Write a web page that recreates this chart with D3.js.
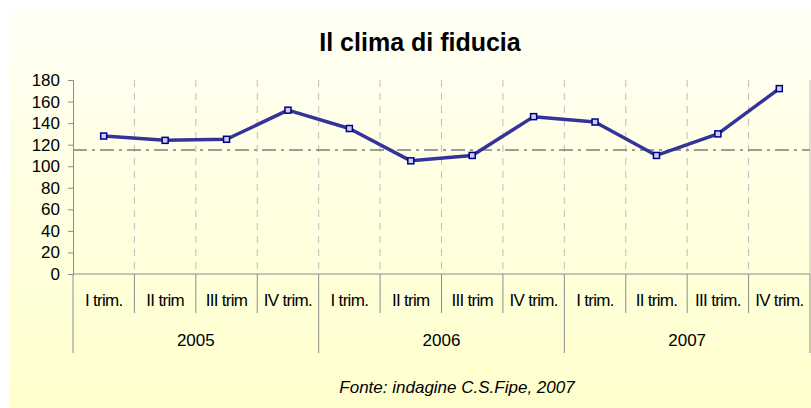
<!DOCTYPE html>
<html lang="it">
<head>
<meta charset="UTF-8">
<title>Il clima di fiducia</title>
<style>
  body { margin: 0; background: #fff; }
  text { font-family: "Liberation Sans", Arial, sans-serif; }
</style>
</head>
<body>
<script src="https://cdn.jsdelivr.net/npm/d3@7"></script>
<script>
// dati
const anni = ["2005", "2006", "2007"];
const trimestri = ["I trim.", "II trim", "III trim", "IV trim.",
                   "I trim.", "II trim", "III trim", "IV trim.",
                   "I trim.", "II trim.", "III trim.", "IV trim."];
const valori = [128, 124, 125, 152, 135, 105, 110, 146, 141, 110, 130, 172];
const media = 115;
const yTicks = [0, 20, 40, 60, 80, 100, 120, 140, 160, 180];

const W = 811, H = 408;
const svg = d3.select("body").append("svg")
    .attr("width", W).attr("height", H);

// sfondo sfumato
const grad = svg.append("defs").append("linearGradient")
    .attr("id", "sfondo").attr("x1", 0).attr("y1", 0).attr("x2", 0).attr("y2", 1);
grad.append("stop").attr("offset", "0%").attr("stop-color", "#fffff5");
grad.append("stop").attr("offset", "100%").attr("stop-color", "#ffffcc");
svg.append("rect")
    .attr("x", 10).attr("y", 10).attr("width", W - 10).attr("height", H - 10)
    .attr("fill", "url(#sfondo)");

const mSx = 73, mDx = 810, mAlto = 80, mBasso = 274;
const idx = valori.map((d, i) => i);

const x = d3.scaleBand().domain(idx).range([mSx, mDx]).padding(0);
const y = d3.scaleLinear().domain([0, 180]).range([mBasso, mAlto]);

// titolo
svg.append("text")
    .attr("x", 420).attr("y", 51)
    .attr("text-anchor", "middle")
    .style("font-size", "25px").style("font-weight", "bold")
    .style("letter-spacing", "0px")
    .text("Il clima di fiducia");

// griglia verticale tratteggiata
svg.append("g").selectAll("line")
    .data(idx.slice(1))
    .enter().append("line")
        .attr("x1", d => x(d)).attr("x2", d => x(d))
        .attr("y1", mAlto).attr("y2", mBasso)
        .attr("stroke", "#bdbdbd").attr("stroke-width", 1)
        .attr("stroke-dasharray", "7,6");

svg.append("line")
    .attr("x1", mDx).attr("x2", mDx).attr("y1", mAlto).attr("y2", mBasso)
    .attr("stroke", "#bdbdbd");

// asse y
const yAxis = svg.append("g")
    .attr("transform", `translate(${mSx},0)`)
    .call(d3.axisLeft(y).tickValues(yTicks).tickSize(5).tickPadding(8));
yAxis.select(".domain").attr("stroke", "#8c8c8c");
yAxis.selectAll(".tick line").attr("stroke", "#8c8c8c");
yAxis.selectAll("text").style("font-size", "17px").attr("fill", "#000")
    .style("font-family", "'Liberation Sans', Arial, sans-serif");

// asse x e categorie
svg.append("line")
    .attr("x1", mSx).attr("x2", mDx).attr("y1", mBasso).attr("y2", mBasso)
    .attr("stroke", "#8c8c8c");

svg.append("g").selectAll("line")
    .data(idx)
    .enter().append("line")
        .attr("x1", d => x(d) + x.bandwidth()).attr("x2", d => x(d) + x.bandwidth())
        .attr("y1", mBasso).attr("y2", d => (d + 1) % 4 === 0 ? 353 : 313)
        .attr("stroke", "#8c8c8c");
svg.append("line")
    .attr("x1", mSx).attr("x2", mSx).attr("y1", mBasso).attr("y2", 353)
    .attr("stroke", "#8c8c8c");

svg.append("g").selectAll("text")
    .data(trimestri)
    .enter().append("text")
        .attr("x", (d, i) => x(i) + x.bandwidth() / 2)
        .attr("y", 306)
        .attr("text-anchor", "middle")
        .style("font-size", "17px").style("letter-spacing", "-0.7px")
        .text(d => d);

svg.append("g").selectAll("text")
    .data(anni)
    .enter().append("text")
        .attr("x", (d, i) => (x(i * 4) + x(i * 4 + 3) + x.bandwidth()) / 2)
        .attr("y", 346)
        .attr("text-anchor", "middle")
        .style("font-size", "17px")
        .text(d => d);

// linea di riferimento
svg.append("line")
    .attr("x1", mSx).attr("x2", mDx)
    .attr("y1", y(media)).attr("y2", y(media))
    .attr("stroke", "#7f7f7f").attr("stroke-width", 1.5)
    .attr("stroke-dasharray", "14,5,3,5");

// serie
const linea = d3.line()
    .x((d, i) => x(i) + x.bandwidth() / 2)
    .y(d => y(d));
svg.append("path")
    .datum(valori)
    .attr("d", linea)
    .attr("fill", "none")
    .attr("stroke", "#333399").attr("stroke-width", 3.5)
    .attr("stroke-linejoin", "round");

svg.append("g").selectAll("rect")
    .data(valori)
    .enter().append("rect")
        .attr("x", (d, i) => x(i) + x.bandwidth() / 2 - 3)
        .attr("y", d => y(d) - 3)
        .attr("width", 6).attr("height", 6)
        .attr("fill", "#ccccff")
        .attr("stroke", "#000080").attr("stroke-width", 1.5);

// fonte
svg.append("text")
    .attr("x", 457).attr("y", 393)
    .attr("text-anchor", "middle")
    .style("font-size", "17px").style("font-style", "italic")
    .text("Fonte: indagine C.S.Fipe, 2007");
</script>
</body>
</html>
